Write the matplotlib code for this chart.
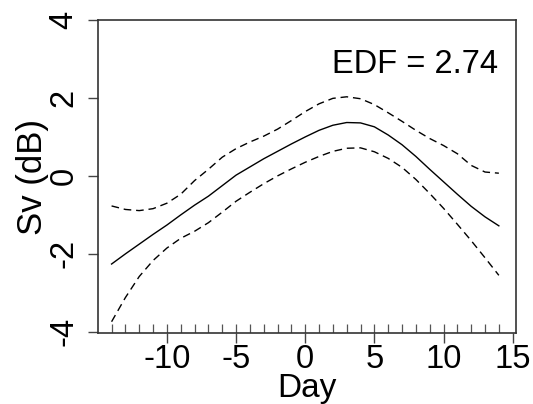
"""Smooth term plot of Sv against Day (GAM style), with rug and EDF label."""

import matplotlib.pyplot as plt
import matplotlib.transforms as mtransforms

plt.rcParams["font.family"] = ["Liberation Sans", "DejaVu Sans"]
plt.rcParams["axes.unicode_minus"] = False

# data
days = list(range(-14, 15))
fit = [-2.26, -2.0, -1.75, -1.5, -1.26, -1.0, -0.75, -0.52, -0.25, 0.02,
       0.23, 0.44, 0.63, 0.82, 1.0, 1.17, 1.3, 1.37, 1.36, 1.26,
       1.05, 0.8, 0.5, 0.17, -0.15, -0.47, -0.78, -1.05, -1.28]
upper = [-0.77, -0.86, -0.89, -0.84, -0.7, -0.47, -0.12, 0.17, 0.48, 0.7,
         0.87, 1.02, 1.2, 1.42, 1.65, 1.85, 1.99, 2.03, 1.98, 1.83,
         1.62, 1.4, 1.17, 0.96, 0.78, 0.57, 0.27, 0.1, 0.07]
lower = [-3.74, -3.12, -2.58, -2.17, -1.85, -1.6, -1.42, -1.2, -0.93, -0.65,
         -0.42, -0.2, 0.0, 0.18, 0.35, 0.5, 0.63, 0.71, 0.72, 0.62,
         0.45, 0.22, -0.09, -0.45, -0.83, -1.24, -1.66, -2.1, -2.55]
rug_days = list(range(-14, 15))
x_ticks = [-10, -5, 0, 5, 10, 15]
y_ticks = [-4, -2, 0, 2, 4]
edf_text = "EDF = 2.74"

fig = plt.figure(figsize=(5.33, 4.04), dpi=100)
ax = fig.add_axes([0.1839, 0.1757, 0.7842, 0.7748])

ax.plot(days, fit, color="black", lw=1.0)
ax.plot(days, upper, color="black", lw=1.0, dashes=(5.5, 3.5))
ax.plot(days, lower, color="black", lw=1.0, dashes=(5.5, 3.5))

# rug along the bottom
trans = mtransforms.blended_transform_factory(ax.transData, ax.transAxes)
ax.vlines(rug_days, 0, 0.029, transform=trans, color="#555555", lw=0.9)

ax.set_xlim(-14.98, 15.24)
ax.set_ylim(-4.03, 4.0)
ax.set_xticks(x_ticks)
ax.set_yticks(y_ticks)

for s in ax.spines.values():
    s.set_color("#333333")
    s.set_linewidth(1.2)
ax.tick_params(axis="both", length=7.2, width=1.0, color="#444444",
               labelsize=23.5, pad=1)
ax.tick_params(axis="y", labelrotation=90, pad=6)
for lab in ax.get_yticklabels():
    lab.set_va("center")

ax.set_xlabel("Day", fontsize=24, labelpad=-2)
ax.set_ylabel("Sv (dB)", fontsize=25, labelpad=0)

ax.text(0.957, 0.831, edf_text, transform=ax.transAxes, ha="right",
        va="baseline", fontsize=23.5)

fig.savefig("out.png", dpi=100)
